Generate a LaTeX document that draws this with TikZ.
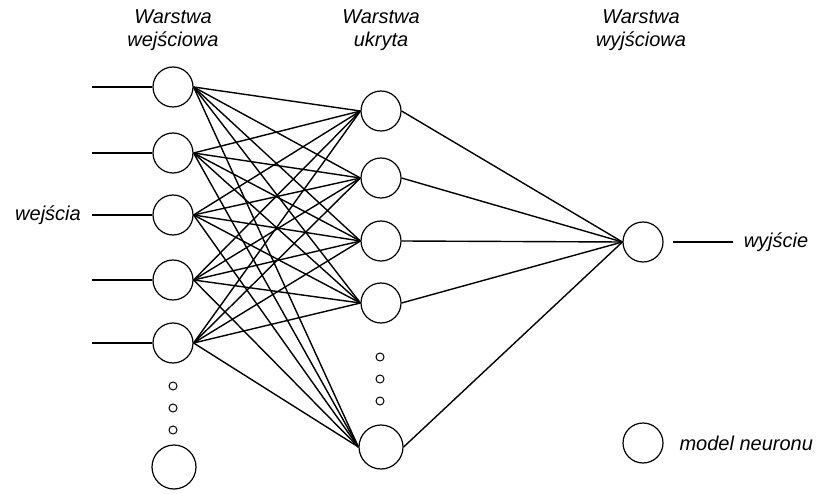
\documentclass[tikz,border=0pt]{standalone}
\usepackage{fontspec}
\setmainfont{Liberation Sans}
\begin{document}
\begin{tikzpicture}[x=1pt,y=-1pt,
  neuron/.style={circle,draw,line width=1.2pt,minimum size=40pt,inner sep=0pt},
  bigneuron/.style={circle,draw,line width=1.2pt,minimum size=44pt,inner sep=0pt},
  dotc/.style={circle,draw,line width=1pt,minimum size=8pt,inner sep=0pt},
  conn/.style={line width=1.4pt},
  lbl/.style={font=\fontsize{20}{23}\selectfont\itshape,align=center}]
\useasboundingbox (0,0) rectangle (819,494);
% titles
\node[lbl] (t1) at (173,30) {Warstwa\\wejściowa};
\node[lbl] (t2) at (381,30) {Warstwa\\ukryta};
\node[lbl] (t3) at (641,30) {Warstwa\\wyjściowa};
% input layer
\foreach \i/\y in {1/87,2/153,3/215,4/280,5/343}{
  \node[neuron] (i\i) at (173,\y) {};
  \coordinate (in\i) at (92,\y);
  \draw[conn] (in\i) -- (i\i.west);
}
\foreach \j/\y in {1/386,2/408,3/430}{\node[dotc] (di\j) at (173,\y) {};}
\node[bigneuron] (i6) at (174,467) {};
% hidden layer
\foreach \i/\y in {1/111,2/178,3/241,4/303}{
  \node[neuron] (h\i) at (381,\y) {};
}
\node[bigneuron] (h5) at (381,447) {};
\foreach \j/\y in {1/357,2/379,3/401}{\node[dotc] (dh\j) at (380,\y) {};}
% output
\node[neuron] (o) at (643,242) {};
\coordinate (oe) at (733,242);
\draw[conn] (673,242) coordinate (os) -- (oe);
% connections
\foreach \a in {1,...,5}{\foreach \b in {1,...,5}{\draw[conn] (i\a.east) -- (h\b.west);}}
\foreach \b in {1,...,5}{\draw[conn] (h\b.east) -- (o.west);}
% labels
\node[lbl] (win) at (48,215) {wejścia};
\node[lbl] (wout) at (776,242) {wyjście};
\node[neuron] (leg) at (643,443) {};
\node[lbl,anchor=west] (legt) at (676,443) {model neuronu};
\end{tikzpicture}
\end{document}
